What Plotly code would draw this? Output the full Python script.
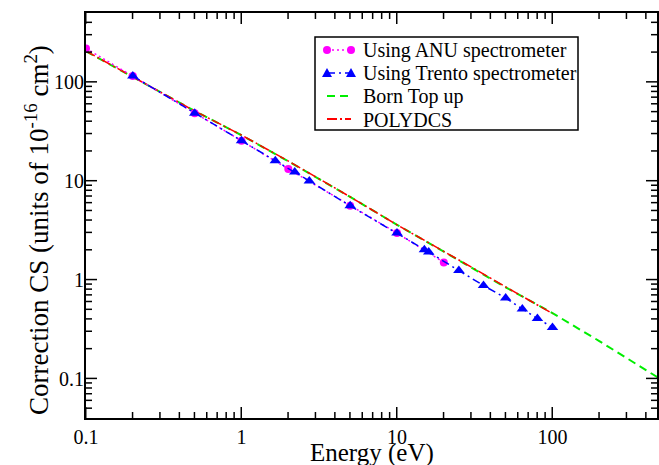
import plotly.graph_objects as go
import numpy as np

# ANU spectrometer data
anu_e = [0.1, 0.2, 0.5, 1, 2, 5, 10, 20]
anu_cs = [219, 115, 48.3, 25.5, 13.2, 5.6, 2.97, 1.50]

# Trento spectrometer data
trento_e = [0.2, 0.5, 1, 1.65, 2.2, 2.73, 5, 10, 15, 16, 25, 36, 50, 64, 80, 100]
trento_cs = [115, 48.3, 25.5, 16.0, 12.3, 10.0, 5.6, 2.97, 2.01, 1.91, 1.24, 0.875, 0.653, 0.506, 0.406, 0.33]

# Born Top up
born_e = [0.1, 0.2, 0.5, 1, 2, 5, 10, 20, 50, 100, 200, 500]
born_cs = [205, 112, 51, 29, 15.8, 6.9, 3.6, 1.93, 0.84, 0.46, 0.24, 0.098]

# POLYDCS
poly_e = [0.1, 0.2, 0.5, 1, 2, 5, 10, 20, 50, 100]
poly_cs = [206, 112, 51, 29.1, 15.9, 6.9, 3.6, 1.94, 0.84, 0.455]

# tick labels
x_major = [0.1, 1, 10, 100]
x_major_text = ["0.1", "1", "10", "100"]
y_major = [0.1, 1, 10, 100]
y_major_text = ["0.1", "1", "10", "100"]

legend_names = ["Using ANU spectrometer", "Using Trento spectrometer", "Born Top up", "POLYDCS"]
x_title = "Energy (eV)"
y_title = "Correction CS (units of 10<sup>-16</sup> cm<sup>2</sup>)"

font_family = "Liberation Serif, Times New Roman, DejaVu Serif, serif"

W, H = 659, 465
ML, MR, MT, MB = 86, 2, 13, 47
PW, PH = W - ML - MR, H - MT - MB

X_MIN, X_MAX = 0.1, 470
Y_MIN, Y_MAX = 0.04, 500
LX0, LX1 = np.log10(X_MIN), np.log10(X_MAX)
LY0, LY1 = np.log10(Y_MIN), np.log10(Y_MAX)


def minor_vals(lo, hi):
    vals = []
    for e in range(-3, 4):
        for d in range(2, 10):
            v = d * 10.0 ** e
            if lo < v < hi:
                vals.append(v)
    return vals


def px_x(p):
    return (p - ML) / PW


def px_y(p):
    return (H - MB - p) / PH


def frac_x(v):
    return float((np.log10(v) - LX0) / (LX1 - LX0))


def frac_y(v):
    return float((np.log10(v) - LY0) / (LY1 - LY0))


fig = go.Figure()
fig.add_trace(go.Scatter(x=born_e, y=born_cs, mode="lines", name=legend_names[2], showlegend=False,
                         line=dict(color="#00ee00", width=2, dash="8px,5px")))
fig.add_trace(go.Scatter(x=poly_e, y=poly_cs, mode="lines", name=legend_names[3], showlegend=False,
                         line=dict(color="#ff0000", width=1.5, dash="10px,3px,2px,3px")))
fig.add_trace(go.Scatter(x=anu_e, y=anu_cs, mode="lines+markers", name=legend_names[0], showlegend=False,
                         line=dict(color="#ff00ff", width=1.5, dash="2px,3px"),
                         marker=dict(symbol="circle", size=8, color="#ff00ff")))
fig.add_trace(go.Scatter(x=trento_e, y=trento_cs, mode="lines+markers", name=legend_names[1], showlegend=False,
                         line=dict(color="#0000ff", width=1.5, dash="8px,4px,2px,4px"),
                         marker=dict(symbol="triangle-up", size=10, color="#0000ff")))

axis_common = dict(
    type="log", showgrid=False, zeroline=False, automargin=False,
    showline=True, linecolor="#000000", linewidth=2, mirror=True,
    ticks="", tickmode="array",
    tickfont=dict(family=font_family, size=20, color="black"),
)

fig.update_xaxes(**axis_common, range=[LX0, LX1], tickvals=x_major, ticktext=x_major_text)
fig.update_yaxes(**axis_common, range=[LY0, LY1], tickvals=y_major, ticktext=y_major_text,
                 ticklabelstandoff=-4)

shapes = []
# x-axis ticks (bottom and top), drawn inward as thin filled rectangles
for vals, ln in ((minor_vals(X_MIN, X_MAX), 6), (x_major, 11)):
    for v in vals:
        fx = frac_x(v)
        dx = 1.0 / PW
        shapes.append(dict(type="rect", xref="paper", yref="paper", x0=fx - dx, x1=fx + dx * 0.5,
                           y0=0, y1=ln / PH, fillcolor="#000000", line=dict(width=0), layer="above"))
        shapes.append(dict(type="rect", xref="paper", yref="paper", x0=fx - dx, x1=fx + dx * 0.5,
                           y0=1 - ln / PH, y1=1, fillcolor="#000000", line=dict(width=0), layer="above"))
# y-axis ticks (left and right)
for vals, ln in ((minor_vals(Y_MIN, Y_MAX), 6), (y_major, 11)):
    for v in vals:
        fy = frac_y(v)
        dy = 1.0 / PH
        shapes.append(dict(type="rect", xref="paper", yref="paper", y0=fy - dy * 0.5, y1=fy + dy,
                           x0=0, x1=ln / PW, fillcolor="#000000", line=dict(width=0), layer="above"))
        shapes.append(dict(type="rect", xref="paper", yref="paper", y0=fy - dy * 0.5, y1=fy + dy,
                           x0=1 - ln / PW, x1=1, fillcolor="#000000", line=dict(width=0), layer="above"))

# hand-drawn legend box matching the reference
box = dict(x0=315, x1=578, y0=37, y1=130)
shapes.append(dict(type="rect", xref="paper", yref="paper",
                   x0=px_x(box["x0"]), x1=px_x(box["x1"]), y0=px_y(box["y1"]), y1=px_y(box["y0"]),
                   line=dict(color="black", width=1.5), fillcolor="white", layer="above"))
row_y = [50, 73, 96, 119]
sym_x0, sym_x1, text_x = 327, 351, 361
styles = [("#ff00ff", "2px,3px", "circle"), ("#0000ff", "8px,4px,2px,4px", "triangle"),
          ("#00ee00", "8px,5px", None), ("#ff0000", "10px,3px,2px,3px", None)]
annotations = []
for ry, name, (col, dash, mk) in zip(row_y, legend_names, styles):
    shapes.append(dict(type="line", xref="paper", yref="paper",
                       x0=px_x(sym_x0), x1=px_x(sym_x1), y0=px_y(ry), y1=px_y(ry),
                       line=dict(color=col, width=1.5 if mk else 2, dash=dash), layer="above"))
    for sx in (sym_x0, sym_x1):
        if mk == "circle":
            shapes.append(dict(type="circle", xref="paper", yref="paper", xsizemode="pixel", ysizemode="pixel",
                               xanchor=px_x(sx), yanchor=px_y(ry), x0=-4, x1=4, y0=-4, y1=4,
                               fillcolor=col, line=dict(color=col, width=0), layer="above"))
        elif mk == "triangle":
            shapes.append(dict(type="path", xref="paper", yref="paper", xsizemode="pixel", ysizemode="pixel",
                               xanchor=px_x(sx), yanchor=px_y(ry), path="M -5,-4 L 5,-4 L 0,5 Z",
                               fillcolor=col, line=dict(color=col, width=0), layer="above"))
    annotations.append(dict(text=name, xref="paper", yref="paper", x=px_x(text_x), y=px_y(ry + 1),
                            xanchor="left", yanchor="middle", showarrow=False,
                            font=dict(family=font_family, size=20, color="black")))

# axis titles
annotations.append(dict(text=x_title, xref="paper", yref="paper", x=px_x(372), y=px_y(453),
                        xanchor="center", yanchor="middle", showarrow=False,
                        font=dict(family=font_family, size=25, color="black")))
annotations.append(dict(text=y_title, xref="paper", yref="paper", x=px_x(37), y=px_y(230),
                        xanchor="center", yanchor="middle", textangle=-90, showarrow=False,
                        font=dict(family=font_family, size=27, color="black")))

fig.update_layout(
    width=W, height=H,
    margin=dict(l=ML, r=MR, t=MT, b=MB),
    paper_bgcolor="white", plot_bgcolor="white",
    showlegend=False,
    shapes=shapes, annotations=annotations,
)

fig.write_html("out.html", config={"displayModeBar": False},
               post_script="document.body.style.margin='0';")
